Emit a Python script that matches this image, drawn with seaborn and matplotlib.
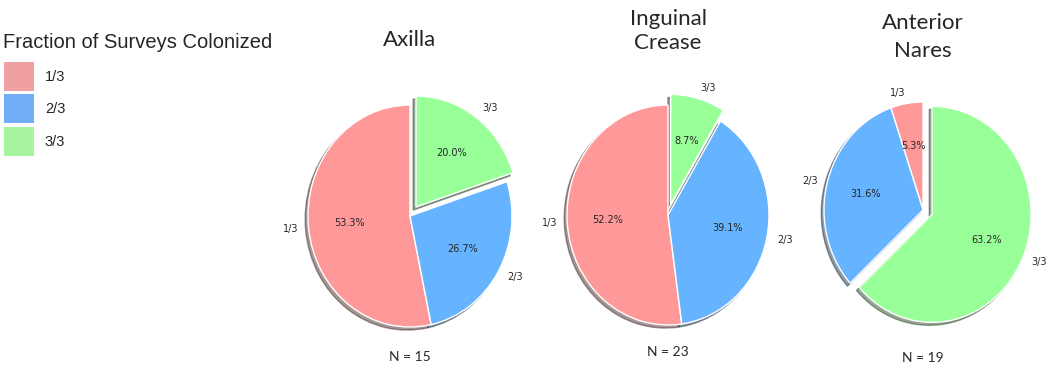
import matplotlib
matplotlib.use("Agg")
import matplotlib.pyplot as plt
import seaborn as sns
from matplotlib.patches import Patch

# data: number of subjects per fraction of surveys colonized
categories = ["1/3", "2/3", "3/3"]
sites = ["Axilla", "Inguinal\nCrease", "Anterior\nNares"]
axilla = [8, 4, 3]
inguinal = [12, 9, 2]
nares = [1, 6, 12]

sns.set_theme(style="white")
plt.rcParams["font.family"] = ["DejaVu Sans"]

pie_colors = ["#ff9999", "#66b3ff", "#99ff99"]
legend_colors = ["#f0a0a0", "#70aef8", "#a6f4a0"]

W, H = 1050, 370
fig = plt.figure(figsize=(W / 100, H / 100), dpi=100)


def px_axes(cx, cy, rx, ry):
    # axes placed by pixel center/radius (top-left origin), limits +-1.25
    w, h = 2.5 * rx, 2.5 * ry
    return fig.add_axes([(cx - w / 2) / W, (H - cy - h / 2) / H, w / W, h / H])


centers = [(410, 216, 102, 111), (668, 215, 101, 110), (923, 210, 99, 108)]
title_y = [40, 31, 37]
title_ls = [1.2, 1.3, 1.5]
n_y = [357, 352, 358]

for i, vals in enumerate([axilla, inguinal, nares]):
    cx, cy, rx, ry = centers[i]
    ax = px_axes(cx, cy, rx, ry)
    ax.pie(vals, labels=categories, colors=pie_colors, explode=[0, 0, 0.1],
           autopct="%1.1f%%", startangle=90, shadow=True,
           textprops={"fontsize": 7})
    ax.set_xlim(-1.25, 1.25)
    ax.set_ylim(-1.25, 1.25)
    ax.set_aspect("auto")
    fig.text(cx / W, 1 - title_y[i] / H, sites[i], ha="center", va="center",
             fontsize=16, family="Lato", linespacing=title_ls[i])
    fig.text(cx / W, 1 - n_y[i] / H, f"N = {sum(vals)}", ha="center",
             va="center", fontsize=10, family="Lato")

fig.text(3 / W, 1 - 42 / H, "Fraction of Surveys Colonized", ha="left",
         va="center", fontsize=14.5, family="Liberation Sans")

handles = [Patch(facecolor=c, edgecolor="none") for c in legend_colors]
leg = fig.legend(handles, categories, loc="upper left",
                 bbox_to_anchor=(4 / W, 1 - 62 / H), frameon=False,
                 prop={"family": "Liberation Sans", "size": 10.5},
                 handlelength=2.05, handleheight=2.68, labelspacing=0.24,
                 handletextpad=0.75, borderpad=0, borderaxespad=0)

fig.savefig("out.png", dpi=100)
